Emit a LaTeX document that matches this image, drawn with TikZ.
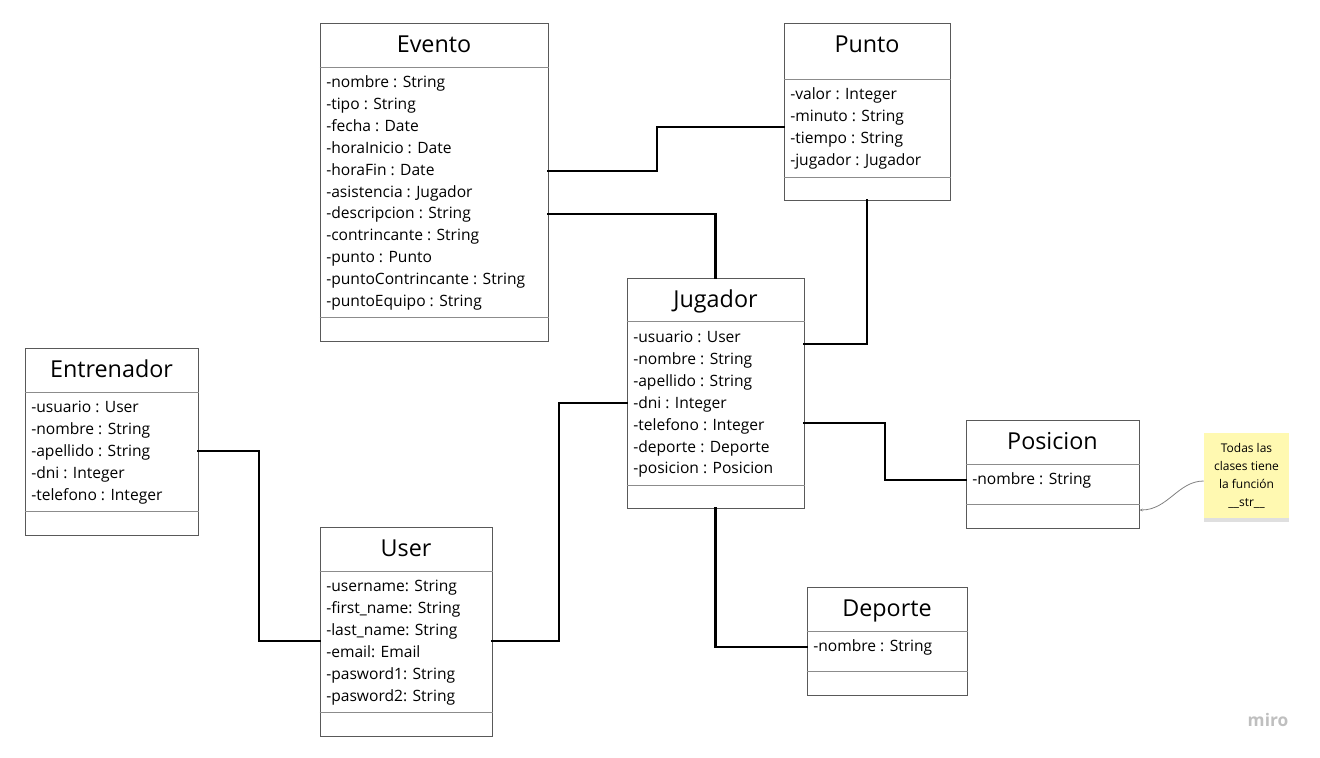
\documentclass[tikz,border=0pt]{standalone}
\usepackage{fontspec}
\setmainfont{Open Sans}
\usetikzlibrary{arrows.meta,shadows}

\definecolor{notey}{HTML}{FFF9B1}

\tikzset{
  cls/.style={draw=black!65, line width=0.75pt, fill=white, inner sep=0pt},
  sep/.style={draw=black!45, line width=0.75pt},
  title/.style={inner sep=0pt, text height=12.4pt, text depth=0pt, font=\fontsize{17.5}{20}\selectfont},
  attrs/.style={anchor=north west, align=left, inner sep=0pt, font=\fontsize{11.7}{16.4}\selectfont},
  link/.style={line width=1.7pt, line cap=rect},
  notelink/.style={draw=black!50, line width=0.6pt, -{Stealth[length=2.5pt,width=2pt]}}
}

\begin{document}
\begin{tikzpicture}[x=0.75pt, y=-0.75pt]
        \useasboundingbox (0,0) rectangle (1320,757);

        % class boxes
        \node[cls, minimum width=171pt, minimum height=238.5pt] (evento) at (434,182) {};
        \node[cls, minimum width=124.5pt, minimum height=132.75pt] (punto) at (867,111.5) {};
        \node[cls, minimum width=132.75pt, minimum height=172.5pt] (jugador) at (715.5,393) {};
        \node[cls, minimum width=129.75pt, minimum height=140.25pt] (entrenador) at (111.5,441.5) {};
        \node[cls, minimum width=129pt, minimum height=156.75pt] (user) at (406,631.5) {};
        \node[cls, minimum width=129.75pt, minimum height=81pt] (posicion) at (1052.5,474) {};
        \node[cls, minimum width=120pt, minimum height=81pt] (deporte) at (887,641) {};

        % separators
        \draw[sep] (evento.west |- 0,67) -- (evento.east |- 0,67);
        \draw[sep] (evento.west |- 0,317) -- (evento.east |- 0,317);
        \draw[sep] (punto.west |- 0,79) -- (punto.east |- 0,79);
        \draw[sep] (punto.west |- 0,177) -- (punto.east |- 0,177);
        \draw[sep] (jugador.west |- 0,321) -- (jugador.east |- 0,321);
        \draw[sep] (jugador.west |- 0,485) -- (jugador.east |- 0,485);
        \draw[sep] (entrenador.west |- 0,392) -- (entrenador.east |- 0,392);
        \draw[sep] (entrenador.west |- 0,511) -- (entrenador.east |- 0,511);
        \draw[sep] (user.west |- 0,571) -- (user.east |- 0,571);
        \draw[sep] (user.west |- 0,712) -- (user.east |- 0,712);
        \draw[sep] (posicion.west |- 0,464) -- (posicion.east |- 0,464);
        \draw[sep] (posicion.west |- 0,504) -- (posicion.east |- 0,504);
        \draw[sep] (deporte.west |- 0,631) -- (deporte.east |- 0,631);
        \draw[sep] (deporte.west |- 0,671) -- (deporte.east |- 0,671);

        % titles
        \node[title] (evento-t) at (434,44) {Evento};
        \node[title] (punto-t) at (867,44) {Punto};
        \node[title] (jugador-t) at (715.5,299) {Jugador};
        \node[title] (entrenador-t) at (111.5,369) {Entrenador};
        \node[title] (user-t) at (406,548) {User};
        \node[title] (posicion-t) at (1052.5,441) {Posicion};
        \node[title] (deporte-t) at (887,608) {Deporte};

        % attributes
        \node[attrs] (evento-a) at (326,72.2) {\strut-nombre : String\\-tipo : String\\-fecha : Date\\-horaInicio : Date\\-horaFin : Date\\-asistencia : Jugador\\-descripcion : String\\-contrincante : String\\-punto : Punto\\-puntoContrincante : String\\-puntoEquipo : String};
        \node[attrs] (punto-a) at (790,84.2) {\strut-valor : Integer\\-minuto : String\\-tiempo : String\\-jugador : Jugador};
        \node[attrs] (jugador-a) at (633,327.2) {\strut-usuario : User\\-nombre : String\\-apellido : String\\-dni : Integer\\-telefono : Integer\\-deporte : Deporte\\-posicion : Posicion};
        \node[attrs] (entrenador-a) at (31,397.2) {\strut-usuario : User\\-nombre : String\\-apellido : String\\-dni : Integer\\-telefono : Integer};
        \node[attrs] (user-a) at (326,576.2) {\strut-username: String\\-first\_name: String\\-last\_name: String\\-email: Email\\-pasword1: String\\-pasword2: String};
        \node[attrs] (posicion-a) at (972,469.2) {\strut-nombre : String};
        \node[attrs] (deporte-a) at (813,636.2) {\strut-nombre : String};

        % connectors
        \draw[link] (evento.east |- 0,171) -| (657,127) -- (punto.west |- 0,127);
        \draw[link] (evento.east |- 0,214) -| (jugador.north);
        \draw[link] (punto.south) |- (jugador.east |- 0,344);
        \draw[link] (jugador.east |- 0,423) -| (885,451) |- (posicion.west |- 0,480);
        \draw[link] (jugador.south) |- (deporte.west |- 0,647);
        \draw[link] (jugador.west |- 0,403) -| (559,522) |- (user.east |- 0,641);
        \draw[link] (entrenador.east |- 0,451) -| (259,546) |- (user.west |- 0,641);

        % note
        \node[fill=notey, minimum width=63.75pt, minimum height=63.75pt, inner sep=2pt, align=center,
              font=\fontsize{9}{13.5}\selectfont,
              drop shadow={opacity=0.25, shadow xshift=0pt, shadow yshift=-3pt}] (nota) at (1246.5,475.5)
              {Todas las\\clases tiene\\la función\\\_\_str\_\_};
        \draw[notelink] (nota.west |- 0,481) .. controls (1178,481) and (1168,510) .. (posicion.east |- 0,510);

        \node[text=black!25, font=\fontsize{13}{15}\selectfont\bfseries, inner sep=0pt] (miro) at (1268,720) {miro};

    \end{tikzpicture}
\end{document}
